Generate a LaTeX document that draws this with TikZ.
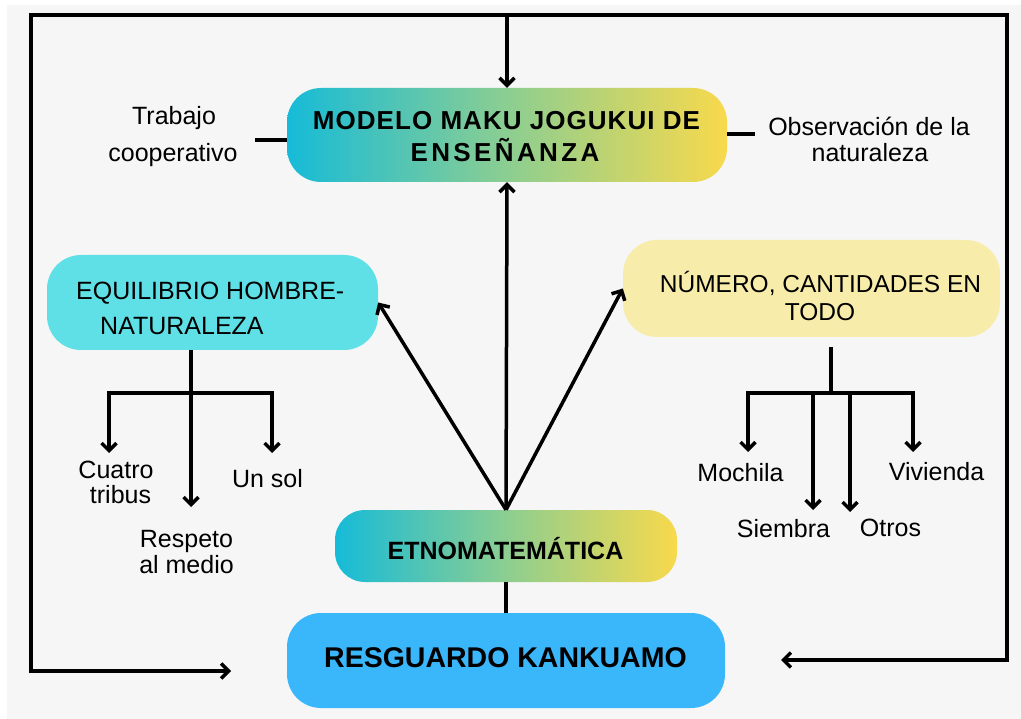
\documentclass[tikz,border=0pt]{standalone}
\usepackage{fontspec}
\setmainfont{Liberation Sans}
\usetikzlibrary{arrows.meta,calc}
\definecolor{bg}{RGB}{246,246,246}
\definecolor{gcyan}{RGB}{22,187,216}
\definecolor{ggreen}{RGB}{140,206,145}
\definecolor{gyellow}{RGB}{248,217,76}
\definecolor{eqfill}{RGB}{94,224,230}
\definecolor{numfill}{RGB}{247,236,170}
\definecolor{resfill}{RGB}{58,182,251}
\begin{document}
\begin{tikzpicture}[x=1pt,y=-1pt,
  ln/.style={line width=3.5pt, black},
  barb/.tip={Straight Barb[length=7.5pt,width=15pt]},
  arr/.style={ln, -barb},
  arr2/.style={ln, barb-barb},
  box/.style={rectangle, rounded corners=34pt, inner sep=0pt},
  grad/.style={box, left color=gcyan, right color=gyellow, middle color=ggreen},
  lbl/.style={inner sep=0pt, anchor=base, font=\fontsize{25}{30}\selectfont},
  blbl/.style={inner sep=0pt, anchor=base, font=\bfseries\fontsize{26}{30}\selectfont},
]
\fill[white] (0,0) rectangle (1021,719);
\fill[bg] (7,5) rectangle (1021,719);
\useasboundingbox (0,0) rectangle (1021,719);

% boxes
\node[grad, minimum width=440pt, minimum height=94pt] (modelo) at (507,135) {};
\node[grad, rounded corners=30pt, minimum width=342pt, minimum height=72pt] (etno) at (506,546) {};
\node[box, fill=resfill, minimum width=438pt, minimum height=95pt] (resg) at (506,660.5) {};
\node[box, fill=eqfill, minimum width=331pt, minimum height=95pt] (equi) at (212.5,302.5) {};
\node[box, fill=numfill, minimum width=377pt, minimum height=97pt] (num) at (811.5,288.5) {};

% box texts
\node[blbl] (modelo1) at (506.5,130) {\addfontfeature{LetterSpace=4}MODELO MAKU JOGUKUI DE};
\node[blbl] (modelo2) at (505,162) {\addfontfeature{LetterSpace=13}ENSEÑANZA};
\node[blbl, font=\bfseries\fontsize{25}{30}\selectfont] (etnot) at (505.5,559) {ETNOMATEMÁTICA};
\node[blbl, font=\bfseries\fontsize{28.5}{30}\selectfont] (resgt) at (505.5,667) {RESGUARDO KANKUAMO};
\node[lbl, anchor=base west] (equi1) at (76,300) {EQUILIBRIO HOMBRE-};
\node[lbl, anchor=base west] (equi2) at (100,335) {NATURALEZA};
\node[lbl, font=\fontsize{24.5}{30}\selectfont] (num1) at (820.5,293) {NÚMERO, CANTIDADES EN};
\node[lbl, font=\fontsize{24.5}{30}\selectfont] (num2) at (820,321) {TODO};

% free labels
\node[lbl] (trab1) at (174,125) {Trabajo};
\node[lbl] (trab2) at (173,162) {cooperativo};
\node[lbl] (obs1) at (869,136) {Observación de la};
\node[lbl] (obs2) at (870,162) {naturaleza};
\node[lbl] (cuatro1) at (116,478.5) {Cuatro};
\node[lbl] (cuatro2) at (120.5,503) {tribus};
\node[lbl] (unsol) at (267.5,487) {Un sol};
\node[lbl] (resp1) at (186.5,547) {Respeto};
\node[lbl] (resp2) at (186.5,573) {al medio};
\node[lbl] (mochila) at (740.5,482) {Mochila};
\node[lbl] (vivienda) at (936.5,480) {Vivienda};
\node[lbl] (siembra) at (783.5,537) {Siembra};
\node[lbl] (otros) at (890.5,536) {Otros};

% frame
\coordinate (ftl) at (31,15);
\coordinate (ftr) at (1007,15);
\coordinate (fbl) at (31,671);
\coordinate (fbr) at (1007,660);
\coordinate (lin) at (231,671);
\coordinate (rin) at (781,660);
\coordinate (ftop) at (507,15);
\draw[arr2] (lin) -- (fbl) -- (ftl) -- (ftr) -- (fbr) -- (rin);
\draw[arr] (ftop) -- (modelo.north);

% central connectors
\draw[arr] (etno.north) -- (modelo.south);
\draw[arr] (etno.north) -- (equi.east);
\draw[arr] (etno.north) -- (num.west);
\draw[ln] (etno.south) -- (resg.north);

% side lines
\coordinate (tl) at (255,140);
\draw[ln] (tl) -- (tl -| modelo.west);
\coordinate (orr) at (755,134);
\draw[ln] (modelo.east |- orr) -- (orr);

% left tree
\coordinate (eqbar) at (191,393);
\coordinate (eqa) at (109,453);
\coordinate (eqc) at (272,453);
\coordinate (eqm) at (191,507);
\draw[arr] (equi.south -| eqbar) -- (eqm);
\draw[arr2] (eqa) -- (eqa |- eqbar) -- (eqc |- eqbar) -- (eqc);

% right tree
\coordinate (nmtop) at (831,347);
\coordinate (nmbar) at (831,393);
\coordinate (nma) at (748,452);
\coordinate (nmd) at (913,452);
\coordinate (nmb) at (813,510);
\coordinate (nmc) at (850,512);
\draw[ln] (nmtop) -- (nmbar);
\draw[arr2] (nma) -- (nma |- nmbar) -- (nmd |- nmbar) -- (nmd);
\draw[arr] (nmb |- nmbar) -- (nmb);
\draw[arr] (nmc |- nmbar) -- (nmc);
\end{tikzpicture}
\end{document}
